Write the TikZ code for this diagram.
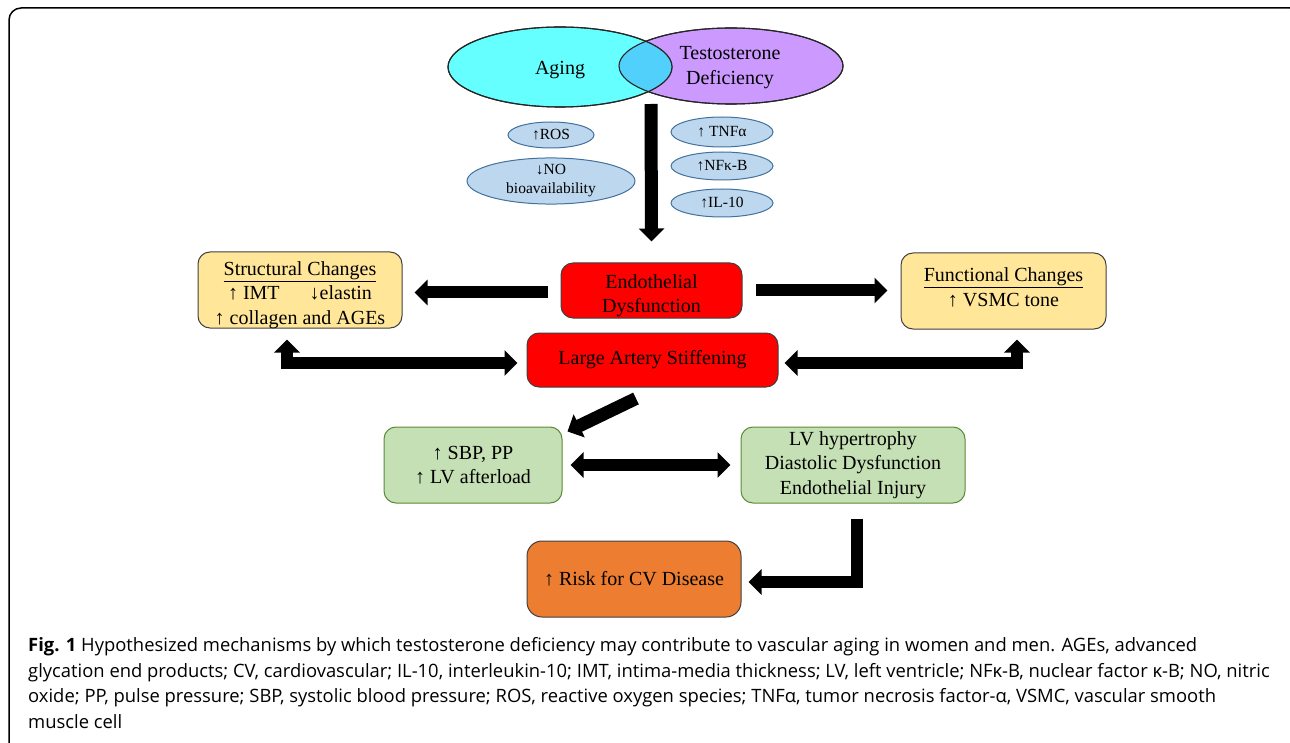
\documentclass[tikz,border=0pt]{standalone}
\usepackage{fontspec}
\setmainfont{Liberation Serif}
\newfontfamily\capfont{Open Sans}
\usetikzlibrary{arrows.meta, shapes.geometric, calc}

\definecolor{agecyan}{RGB}{102,255,255}
\definecolor{testopurple}{RGB}{204,153,255}
\definecolor{overlapblue}{RGB}{80,208,250}
\definecolor{bubblefill}{RGB}{189,215,238}
\definecolor{bubbleedge}{RGB}{65,113,156}
\definecolor{changeyellow}{RGB}{255,230,153}
\definecolor{heartgreen}{RGB}{197,224,180}
\definecolor{heartedge}{RGB}{112,173,71}
\definecolor{riskorange}{RGB}{237,125,49}

\begin{document}
\begin{tikzpicture}[x=1pt, y=-1pt,
  venn/.style={ellipse, draw=black!85, line width=1.1pt, inner sep=0pt, align=center,
               font=\fontsize{20}{25}\selectfont},
  bubble/.style={ellipse, fill=bubblefill, draw=bubbleedge, line width=1pt, inner sep=0pt,
                 align=center, font=\fontsize{15.5}{19}\selectfont},
  box/.style={rectangle, rounded corners=12pt, draw=black!75, line width=1pt, inner sep=0pt,
              align=center, font=\fontsize{20}{24.5}\selectfont},
  bigarrow/.style={line width=12pt, line join=miter, -{Triangle[length=13pt, width=25pt]}},
  bothways/.style={line width=12pt, line join=miter,
                   {Triangle[length=13pt, width=25pt]}-{Triangle[length=13pt, width=25pt]}}
]
  \useasboundingbox (0,0) rectangle (1290,743);
  % Frame
  \draw[line width=1.5pt, rounded corners=12pt] (9,8) rectangle (1302,755);

  % Venn
  \node[venn, fill=testopurple, minimum width=224pt, minimum height=76pt] (testo) at (731,66) {};
  \node[venn, fill=agecyan, minimum width=224pt, minimum height=80pt] (aging) at (560,67) {};
  \begin{scope}
    \clip (560,67) ellipse [x radius=112, y radius=40];
    \fill[overlapblue] (731,66) ellipse [x radius=112, y radius=38];
  \end{scope}
  \draw[black!85, line width=1.1pt] (560,67) ellipse [x radius=112, y radius=40];
  \draw[black!85, line width=1.1pt] (731,66) ellipse [x radius=112, y radius=38];
  \node[font=\fontsize{20}{25}\selectfont] (agingtext) at (560,70) {Aging};
  \node[align=center, font=\fontsize{20}{25}\selectfont] (testotext) at (730,68) {Testosterone\\Deficiency};

  % Mediators
  \node[bubble, minimum width=86pt, minimum height=26pt] (ros) at (551,135) {↑ROS};
  \node[bubble, minimum width=168pt, minimum height=44pt] (no) at (551,181) {↓NO\\bioavailability};
  \node[bubble, minimum width=102pt, minimum height=30pt] (tnf) at (722,132) {↑ TNFα};
  \node[bubble, minimum width=102pt, minimum height=28pt] (nfkb) at (722,166) {↑NFκ-B};
  \node[bubble, minimum width=102pt, minimum height=28pt] (il) at (722,203) {↑IL-10};

  % Boxes
  \node[box, fill=changeyellow, minimum width=204pt, minimum height=76pt] (struct) at (300,290)
    {\underline{Structural Changes}\\↑ IMT\hspace{1.5em}↓elastin\\↑ collagen and AGEs\\[-30pt]};
  \node[box, fill=red, minimum width=181pt, minimum height=55pt] (endo) at (651.5,290.5)
    {Endothelial\\Dysfunction\\[-31pt]};
  \node[box, fill=changeyellow, minimum width=205pt, minimum height=76pt] (func) at (1003.5,291)
    {\underline{Functional Changes}\\↑ VSMC tone\\[-17pt]};
  \node[box, fill=red, minimum width=251pt, minimum height=54pt] (large) at (652.5,360)
    {Large Artery Stiffening};
  \node[box, fill=heartgreen, draw=heartedge!80!black, minimum width=178pt, minimum height=76pt] (sbp) at (473,465)
    {↑ SBP, PP\\↑ LV afterload};
  \node[box, fill=heartgreen, draw=heartedge!80!black, minimum width=224pt, minimum height=76pt] (lv) at (853,465)
    {LV hypertrophy\\Diastolic Dysfunction\\Endothelial Injury};
  \node[box, fill=riskorange, rounded corners=15pt, minimum width=214pt, minimum height=76pt] (risk) at (634,579)
    {↑ Risk for CV Disease};

  % Arrows
  \coordinate (vennbot) at (651,104);
  \coordinate (elbowL) at (287,363);
  \coordinate (elbowR) at (1017,363);
  \coordinate (bendR) at (857,582);
  \draw[bigarrow, line width=13pt] (vennbot) -- ($(endo.north)+(0,-21)$);
  \draw[bigarrow] ($(endo.west)+(-13,2)$) -- ($(endo.west -| struct.east)+(12,2)$);
  \draw[bigarrow] ($(endo.east)+(13,0)$) -- ($(endo.east -| func.west)+(-13,0)$);
  \draw[bothways] ($(large.west |- elbowL)+(-9,0)$) -- (elbowL) -- ($(struct.south -| elbowL)+(0,11)$);
  \draw[bothways] ($(large.east |- elbowR)+(6,0)$) -- (elbowR) -- ($(func.south -| elbowR)+(0,10)$);
  \draw[bigarrow, line width=13pt] ($(large.south)+(-16.5,11)$) -- ($(sbp.north east)+(5,5)$);
  \draw[bothways] ($(sbp.east)+(8,0)$) -- ($(lv.west)+(-10,0)$);
  \draw[bigarrow] ($(lv.south -| bendR)+(0,15)$) -- (bendR) -- ($(risk.east |- bendR)+(7,0)$);

  % Caption
  \node[anchor=base west, align=left, inner sep=0pt, font=\capfont\fontsize{18.4}{25.5}\selectfont] (caption) at (28,728)
    {\textbf{Fig. 1} Hypothesized mechanisms by which testosterone deficiency may contribute to vascular aging in women and men. AGEs, advanced\\
     glycation end products; CV, cardiovascular; IL-10, interleukin-10; IMT, intima-media thickness; LV, left ventricle; NFκ-B, nuclear factor κ-B; NO, nitric\\
     oxide; PP, pulse pressure; SBP, systolic blood pressure; ROS, reactive oxygen species; TNFα, tumor necrosis factor-α, VSMC, vascular smooth\\
     muscle cell};
\end{tikzpicture}
\end{document}
